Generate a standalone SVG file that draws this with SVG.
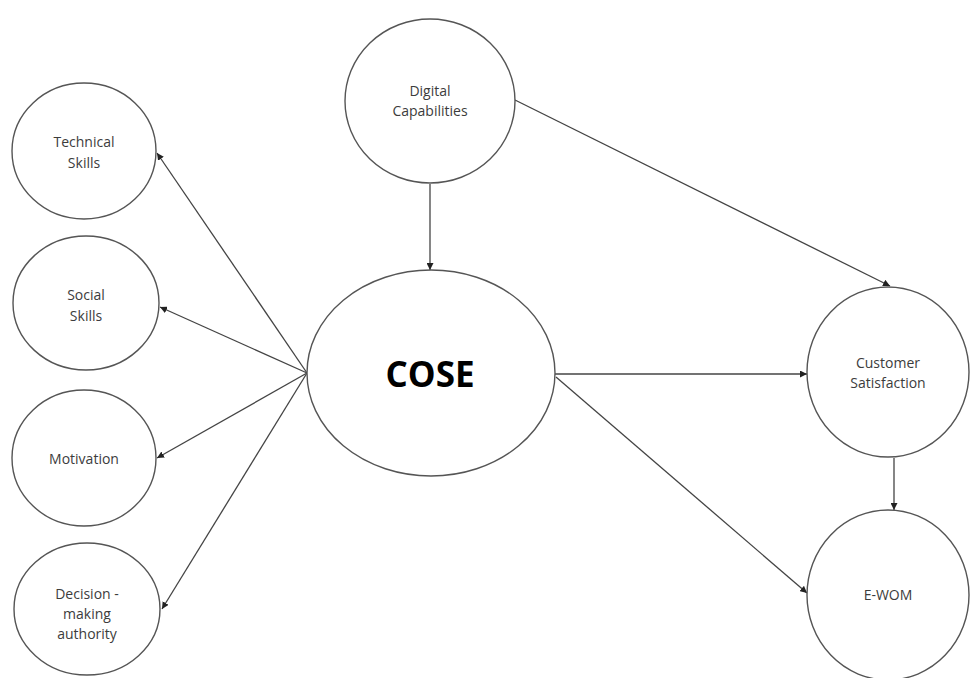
<svg xmlns="http://www.w3.org/2000/svg" width="972" height="678" viewBox="0 0 972 678">
<style>
.n{fill:#fff;stroke:#555;stroke-width:1.4}
.t{font-family:"Open Sans","Liberation Sans",sans-serif;font-size:14px;fill:#3c3c3c;text-anchor:middle}
.big{font-family:"Open Sans","Liberation Sans",sans-serif;font-size:35px;font-weight:bold;fill:#000;text-anchor:middle}
.c{stroke:#444;stroke-width:1.3;fill:none;marker-end:url(#ah)}
</style>
<defs>
<marker id="ah" viewBox="0 0 10 10" refX="10" refY="5" markerWidth="7" markerHeight="7" markerUnits="userSpaceOnUse" orient="auto">
<path d="M0,0 L10,5 L0,10 z" fill="#222"/>
</marker>
</defs>
<g id="connectors">
<line class="c" x1="307" y1="373" x2="157" y2="153"/>
<line class="c" x1="307" y1="373" x2="160" y2="307"/>
<line class="c" x1="307" y1="373" x2="157" y2="458"/>
<line class="c" x1="307" y1="373" x2="162" y2="609"/>
<line class="c" x1="430" y1="184" x2="430" y2="270"/>
<line class="c" x1="515" y1="100" x2="890" y2="286"/>
<line class="c" x1="555" y1="374" x2="807" y2="374"/>
<line class="c" x1="556" y1="377" x2="807" y2="593"/>
<line class="c" x1="894" y1="458" x2="894" y2="510"/>
</g>
<g id="technical-skills"><ellipse class="n" cx="84" cy="151" rx="72" ry="68"/><text class="t" x="84" y="147">Technical</text><text class="t" x="84" y="168">Skills</text></g>
<g id="social-skills"><ellipse class="n" cx="86" cy="303" rx="73" ry="67"/><text class="t" x="86" y="300">Social</text><text class="t" x="86" y="321">Skills</text></g>
<g id="motivation"><ellipse class="n" cx="84" cy="458" rx="72" ry="68"/><text class="t" x="84" y="464">Motivation</text></g>
<g id="decision-making"><ellipse class="n" cx="87" cy="609" rx="73" ry="66"/><text class="t" x="87" y="599">Decision -</text><text class="t" x="87" y="619">making</text><text class="t" x="87" y="639">authority</text></g>
<g id="digital-capabilities"><ellipse class="n" cx="430" cy="101" rx="85" ry="82"/><text class="t" x="430" y="96">Digital</text><text class="t" x="430" y="116">Capabilities</text></g>
<g id="cose"><ellipse class="n" cx="431" cy="373" rx="124" ry="103"/><text class="big" x="430" y="387">COSE</text></g>
<g id="customer-satisfaction"><ellipse class="n" cx="888" cy="372" rx="81" ry="85"/><text class="t" x="888" y="368">Customer</text><text class="t" x="888" y="388">Satisfaction</text></g>
<g id="e-wom"><ellipse class="n" cx="888" cy="595" rx="81" ry="85"/><text class="t" x="888" y="600">E-WOM</text></g>
</svg>
